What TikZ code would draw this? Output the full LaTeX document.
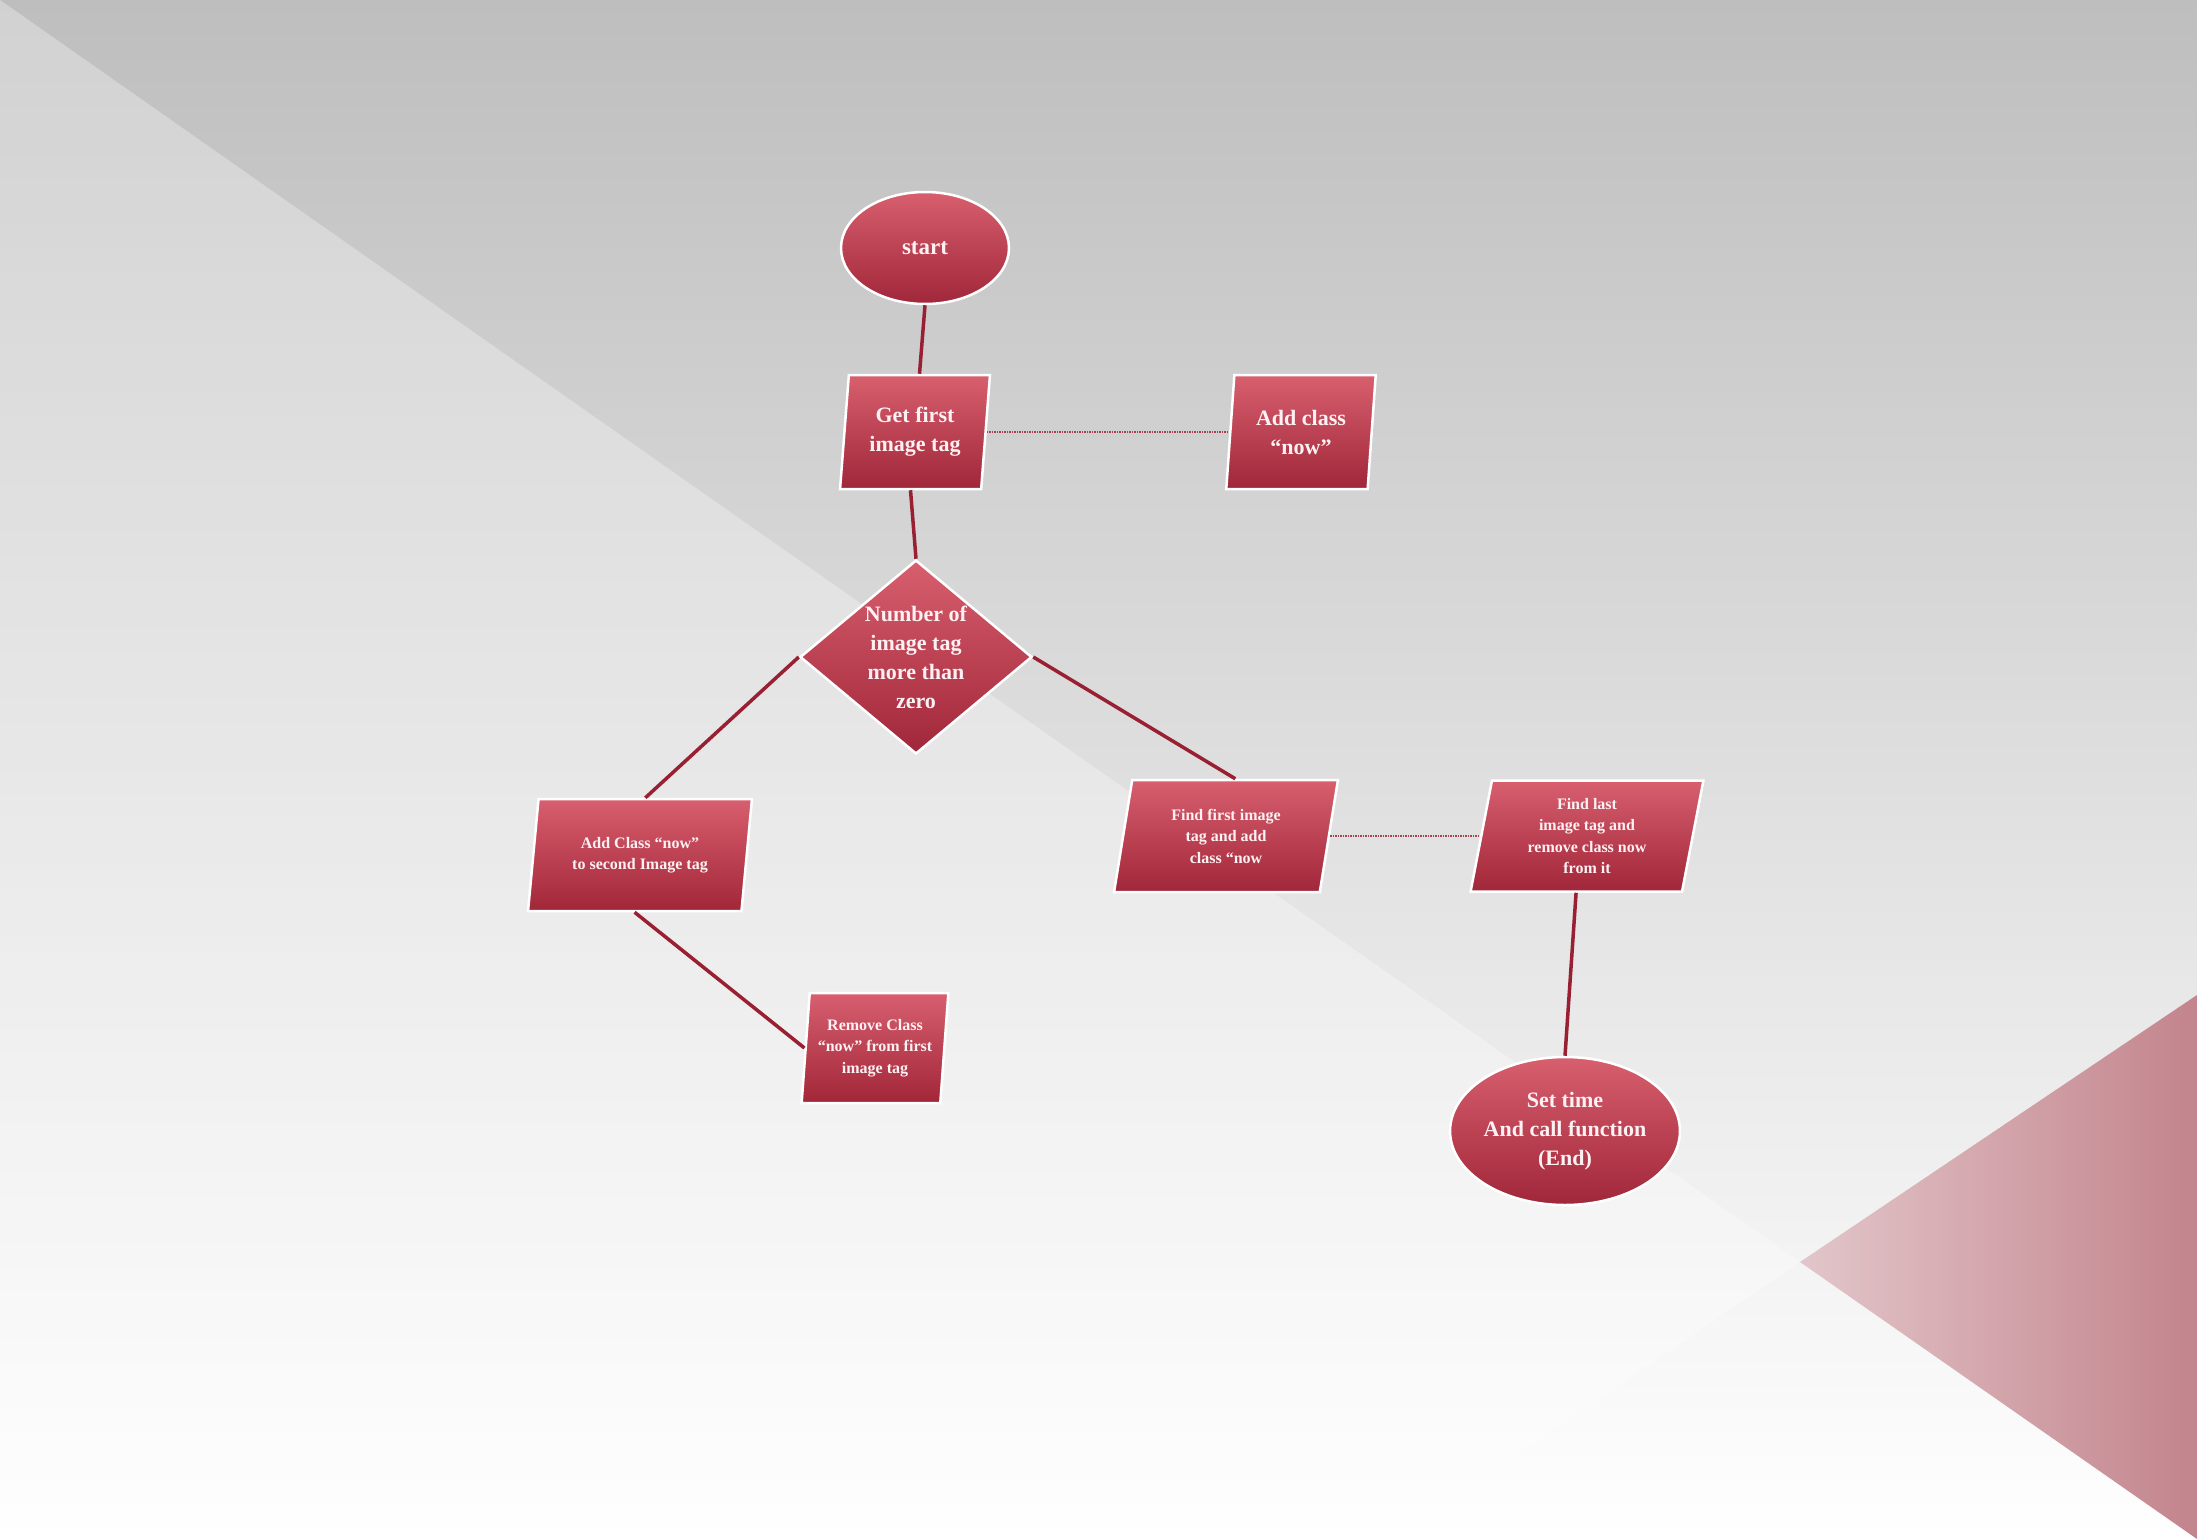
\documentclass[tikz,border=0pt]{standalone}
\usepackage{fontspec}
\setmainfont{Liberation Serif}
\usetikzlibrary{shapes.geometric}

\definecolor{bgtop}{RGB}{190,190,190}
\definecolor{wedgeleft}{RGB}{226,198,202}
\definecolor{wedgeright}{RGB}{195,132,140}
\definecolor{boxtop}{RGB}{216,95,110}
\definecolor{boxbottom}{RGB}{160,38,57}
\definecolor{boxtext}{RGB}{253,241,243}
\definecolor{linkred}{RGB}{152,32,50}

\tikzset{
  flowbox/.style={draw=white, line width=2.5pt, top color=boxtop, bottom color=boxbottom,
    text=boxtext, align=center, inner sep=0pt},
  bigtext/.style={font=\fontsize{22}{29}\selectfont\bfseries},
  smalltext/.style={font=\fontsize{16}{21.5}\selectfont\bfseries},
  stepbox/.style={flowbox, trapezium, trapezium stretches=true,
    trapezium left angle=#1, trapezium right angle={180-#1}},
  stepbox/.default=80,
  terminal/.style={flowbox, ellipse},
  decision/.style={flowbox, diamond, aspect=1.2},
  link/.style={draw=linkred, line width=3.5pt},
  dotlink/.style={draw=linkred!85, line width=1.5pt, densely dotted}
}

\begin{document}
\begin{tikzpicture}[x=1pt, y=-1pt]
    \useasboundingbox (0,0) rectangle (2197,1539);
    % background
    \shade [top color=bgtop, bottom color=white] (0,0) rectangle (2197,1539);
    \fill [white, opacity=0.3] (0,0) -- (1800,1262) -- (1393,1539) -- (0,1539) -- cycle;
    \shade [left color=wedgeleft, right color=wedgeright] (1800,1262) -- (2197,995) -- (2197,1539) -- cycle;

    % flow
    \node [terminal, bigtext, font=\fontsize{23}{29}\selectfont\bfseries, minimum width=168, minimum height=112] (start) at (925,248) {start};
    \node [stepbox=83, bigtext, minimum width=150, minimum height=114] (getfirst) at (915,432) {Get first\\image tag};
    \node [stepbox=83, bigtext, minimum width=150, minimum height=114] (addclass) at (1301,432) {Add class\\“now”};
    \node [decision, bigtext, minimum width=232, minimum height=194] (check) at (916,657) {Number of\\image tag\\more than\\zero};
    \node [stepbox=79, smalltext, minimum width=224, minimum height=112] (addnow) at (640,855) {Add Class “now”\\to second Image tag};
    \node [stepbox=83, smalltext, minimum width=147, minimum height=110] (removenow) at (875,1048) {Remove Class\\“now” from first\\image tag};
    \node [stepbox=79, smalltext, minimum width=224, minimum height=112] (findfirst) at (1226,836) {Find first image\\tag and add\\class “now};
    \node [stepbox=80, smalltext, minimum width=233, minimum height=111] (findlast) at (1587,836) {Find last\\image tag and\\remove class now\\from it};
    \node [terminal, bigtext, minimum width=224, minimum height=148] (settime) at (1565,1131) {Set time\\And call function\\(End)};

    \draw [link] (start.south) -- (getfirst.top side);
    \draw [link] (getfirst.bottom side) -- (check.north);
    \draw [link] (check.west) -- (addnow.top side);
    \draw [link] (addnow.bottom side) -- (removenow.left side);
    \draw [link] (check.east) -- (findfirst.top side);
    \draw [link] (findlast.bottom side) -- (settime.north);
    \draw [dotlink] (getfirst.right side) -- (addclass.left side);
    \draw [dotlink] (findfirst.right side) -- (findlast.left side);
\end{tikzpicture}
\end{document}
